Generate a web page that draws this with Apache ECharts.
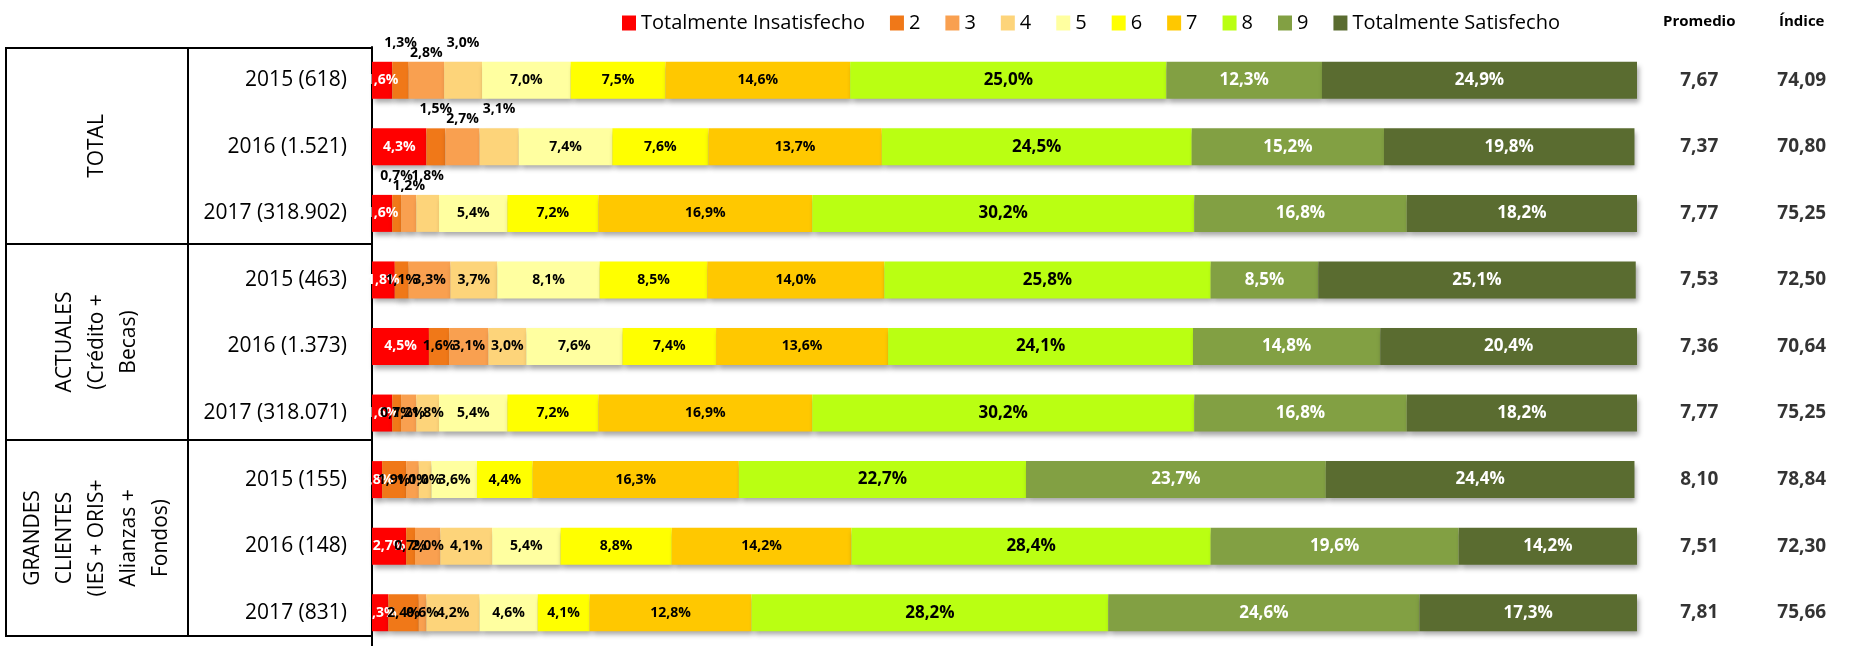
<!DOCTYPE html>
<html>
<head>
<meta charset="utf-8">
<script src="https://cdn.jsdelivr.net/npm/echarts@6/dist/echarts.min.js"></script>
<style>
  html, body { margin: 0; padding: 0; background: #fff; }
  #chart { width: 1853px; height: 646px; }
</style>
</head>
<body>
<div id="chart"></div>
<script>
const categories = ['2015 (618)', '2016 (1.521)', '2017 (318.902)', '2015 (463)', '2016 (1.373)', '2017 (318.071)', '2015 (155)', '2016 (148)', '2017 (831)'];
const groups = ['TOTAL', 'ACTUALES\n(Crédito +\nBecas)', 'GRANDES\nCLIENTES\n(IES + ORIS+\nAlianzas +\nFondos)'];
const levels = ['Totalmente Insatisfecho', '2', '3', '4', '5', '6', '7', '8', '9', 'Totalmente Satisfecho'];
const colors = ['#FF0000', '#F07818', '#F9A050', '#FDD47A', '#FFFFA0', '#FFFF00', '#FFC800', '#BAFF12', '#82A043', '#5A6C30'];

// one array per answer level, one value per row (%)
const insatisfecho = [1.6, 4.3, 1.6, 1.8, 4.5, 1.6, 0.8, 2.7, 1.3];
const nivel2 = [1.3, 1.5, 0.7, 1.1, 1.6, 0.7, 1.9, 0.7, 2.4];
const nivel3 = [2.8, 2.7, 1.2, 3.3, 3.1, 1.2, 1.0, 2.0, 0.6];
const nivel4 = [3.0, 3.1, 1.8, 3.7, 3.0, 1.8, 1.0, 4.1, 4.2];
const nivel5 = [7.0, 7.4, 5.4, 8.1, 7.6, 5.4, 3.6, 5.4, 4.6];
const nivel6 = [7.5, 7.6, 7.2, 8.5, 7.4, 7.2, 4.4, 8.8, 4.1];
const nivel7 = [14.6, 13.7, 16.9, 14.0, 13.6, 16.9, 16.3, 14.2, 12.8];
const nivel8 = [25.0, 24.5, 30.2, 25.8, 24.1, 30.2, 22.7, 28.4, 28.2];
const nivel9 = [12.3, 15.2, 16.8, 8.5, 14.8, 16.8, 23.7, 19.6, 24.6];
const satisfecho = [24.9, 19.8, 18.2, 25.1, 20.4, 18.2, 24.4, 14.2, 17.3];

const promedio = [7.67, 7.37, 7.77, 7.53, 7.36, 7.77, 8.10, 7.51, 7.81];
const indice = [74.09, 70.80, 75.25, 72.50, 70.64, 75.25, 78.84, 72.30, 75.66];
const columnas = ['Promedio', 'Índice'];

const seriesValues = [insatisfecho, nivel2, nivel3, nivel4, nivel5, nivel6, nivel7, nivel8, nivel9, satisfecho];

const fmt = (v, d) => v.toFixed(d).replace('.', ',');
const labelColor = ['#fff', '#000', '#000', '#000', '#000', '#000', '#000', '#000', '#fff', '#fff'];
const labelSize = [14, 14, 14, 14, 14, 14, 14, 17, 17, 17];
const font = 'Open Sans';

const chart = echarts.init(document.getElementById('chart'));

const series = seriesValues.map((vals, s) => ({
  name: levels[s],
  type: 'bar',
  stack: 'total',
  barWidth: 37,
  xAxisIndex: 0,
  yAxisIndex: 0,
  itemStyle: {
    color: colors[s],
    shadowColor: 'rgba(0,0,0,0.35)',
    shadowBlur: 5,
    shadowOffsetX: 2,
    shadowOffsetY: 4
  },
  label: {
    show: true,
    position: 'inside',
    color: labelColor[s],
    fontSize: labelSize[s],
    fontWeight: 'bold',
    fontFamily: font,
    formatter: p => fmt(p.value, 1) + '%'
  },
  // small segments of the TOTAL rows have their labels above the bar
  data: vals.map((v, i) => (i < 3 && s >= 1 && s <= 3)
    ? { value: v, label: { position: 'top', distance: s === 2 ? 2 : 12 } }
    : v)
}));

series.push({
  type: 'scatter',
  xAxisIndex: 1,
  yAxisIndex: 1,
  symbolSize: 0,
  silent: true,
  data: promedio.map((v, i) => [0, i, v]).concat(indice.map((v, i) => [1, i, v])),
  label: {
    show: true,
    position: 'inside',
    color: '#000',
    fontSize: 19,
    fontWeight: 'bold',
    fontFamily: font,
    formatter: p => fmt(p.value[2], 2)
  }
});

const lineStyle = { stroke: '#000', lineWidth: 2 };

chart.setOption({
  animation: false,
  legend: {
    data: levels,
    top: 8,
    left: 617,
    icon: 'rect',
    itemWidth: 14,
    itemHeight: 15,
    itemGap: 25,
    textStyle: { fontSize: 20, fontFamily: font, color: '#000' }
  },
  grid: [
    { left: 372, top: 47, width: 1265, height: 603 },
    { left: 1648, top: 47, width: 216, height: 603 }
  ],
  xAxis: [
    { type: 'value', min: 0, max: 100, show: false, gridIndex: 0 },
    {
      type: 'category', data: columnas, gridIndex: 1, position: 'top',
      axisLine: { show: false }, axisTick: { show: false },
      axisLabel: { fontSize: 15, fontWeight: 'bold', fontFamily: font, color: '#000', margin: 18 }
    }
  ],
  yAxis: [
    {
      type: 'category', data: categories, inverse: true, gridIndex: 0,
      axisLine: { show: true, lineStyle: { color: '#000', width: 2 } },
      axisTick: { show: false },
      axisLabel: { fontSize: 21, fontFamily: font, color: '#000', margin: 25 }
    },
    { type: 'category', data: categories, inverse: true, gridIndex: 1, show: false }
  ],
  graphic: [
    { type: 'rect', shape: { x: 6, y: 48, width: 366, height: 588 }, style: { fill: 'none', stroke: '#000', lineWidth: 2 } },
    { type: 'line', shape: { x1: 188, y1: 48, x2: 188, y2: 636 }, style: lineStyle },
    { type: 'line', shape: { x1: 6, y1: 244, x2: 372, y2: 244 }, style: lineStyle },
    { type: 'line', shape: { x1: 6, y1: 440, x2: 372, y2: 440 }, style: lineStyle },
    ...groups.map((g, k) => ({
      type: 'text',
      x: 97,
      y: 146 + 196 * k,
      rotation: Math.PI / 2,
      style: {
        text: g,
        fontSize: 21,
        fontFamily: font,
        fill: '#000',
        align: 'center',
        verticalAlign: 'middle',
        lineHeight: 32
      }
    }))
  ],
  series: series
});
</script>
</body>
</html>
